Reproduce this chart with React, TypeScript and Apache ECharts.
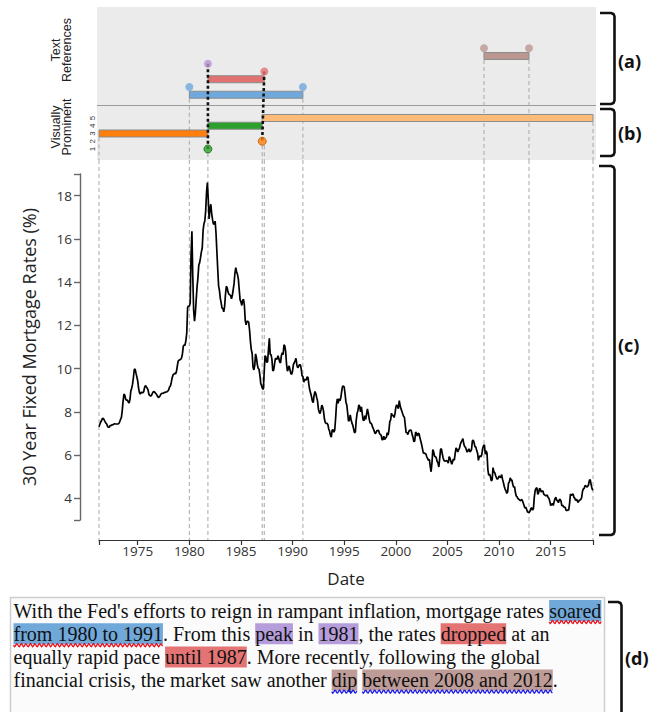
import React, { useEffect, useRef } from "react";
import * as echarts from "echarts";

// ---------------- DATA ----------------
// Monthly 30-year fixed mortgage rates (%)
const rates1971to1979 = [
  7.31, 7.43, 7.53, 7.6, 7.7, 7.69, 7.63, 7.55, 7.48,
  7.44, 7.32, 7.29, 7.29, 7.37, 7.37, 7.4, 7.4, 7.43, 7.45, 7.44, 7.44,
  7.44, 7.44, 7.46, 7.54, 7.65, 7.73, 8.05, 8.5, 8.82, 8.77, 8.58, 8.54,
  8.54, 8.46, 8.41, 8.58, 8.97, 9.09, 9.28, 9.59, 9.96, 9.98, 9.79, 9.62,
  9.43, 9.1, 8.89, 8.82, 8.91, 8.89, 8.89, 8.94, 9.13, 9.22, 9.15, 9.1,
  9.02, 8.81, 8.76, 8.73, 8.76, 8.85, 8.93, 8.94, 8.9, 8.85, 8.8, 8.72,
  8.67, 8.69, 8.75, 8.82, 8.86, 8.86, 8.87, 8.9, 8.9, 8.92, 8.93, 8.96,
  9.02, 9.15, 9.2, 9.36, 9.57, 9.71, 9.74, 9.78, 9.76, 9.86, 10.11, 10.35,
  10.39, 10.41, 10.43, 10.5, 10.69, 11.04, 11.09, 11.09, 11.3, 11.64, 12.83, 12.9,
];
const rates1980s = [
  12.88, 13.04, 15.28, 16.35, 14.26, 12.71, 12.19, 12.56, 13.2, 13.79, 14.21, 14.79,
  14.9, 15.13, 15.4, 15.58, 16.4, 16.7, 16.83, 17.29, 18.16, 18.6, 17.83, 16.92,
  17.4, 17.6, 17.16, 16.89, 16.68, 16.7, 16.82, 16.27, 15.43, 14.61, 13.83, 13.62,
  13.25, 13.04, 12.8, 12.78, 12.63, 12.87, 13.42, 13.81, 13.73, 13.54, 13.44, 13.42,
  13.37, 13.23, 13.39, 13.65, 13.94, 14.42, 14.67, 14.47, 14.35, 14.13, 13.64, 13.18,
  13.08, 12.92, 13.17, 13.2, 12.91, 12.22, 12.03, 12.19, 12.19, 12.14, 11.78, 11.26,
  10.88, 10.71, 10.08, 9.94, 10.14, 10.68, 10.51, 10.2, 10.01, 9.98, 9.7, 9.32,
  9.2, 9.08, 9.04, 9.83, 10.6, 10.54, 10.28, 10.33, 10.89, 11.4, 10.65, 10.65,
  10.43, 9.89, 9.93, 10.2, 10.46, 10.46, 10.43, 10.6, 10.48, 10.3, 10.27, 10.61,
  10.73, 10.65, 11.1, 11.05, 10.77, 10.2, 9.88, 9.99, 10.13, 9.95, 9.77, 9.74,
];
const rates1990s = [
  9.9, 10.2, 10.27, 10.37, 10.48, 10.16, 10.04, 10.1, 10.18, 10.18, 10.01, 9.67,
  9.64, 9.37, 9.5, 9.49, 9.47, 9.62, 9.58, 9.24, 9.01, 8.86, 8.71, 8.5,
  8.43, 8.76, 8.94, 8.85, 8.67, 8.51, 8.13, 7.98, 7.92, 8.09, 8.31, 8.22,
  8.02, 7.68, 7.5, 7.47, 7.47, 7.42, 7.21, 7.11, 6.92, 6.83, 7.16, 7.17,
  7.06, 7.15, 7.68, 8.32, 8.6, 8.4, 8.61, 8.51, 8.64, 8.93, 9.17, 9.2,
  9.15, 8.83, 8.46, 8.32, 7.96, 7.57, 7.61, 7.86, 7.64, 7.48, 7.38, 7.2,
  7.03, 7.08, 7.62, 7.93, 8.07, 8.32, 8.25, 8.0, 8.23, 7.92, 7.62, 7.6,
  7.82, 7.65, 7.9, 8.14, 7.94, 7.69, 7.5, 7.48, 7.43, 7.29, 7.21, 7.1,
  6.99, 7.04, 7.13, 7.14, 7.14, 7.0, 6.95, 6.92, 6.72, 6.71, 6.87, 6.72,
  6.79, 6.81, 7.04, 6.92, 7.15, 7.55, 7.63, 7.94, 7.82, 7.85, 7.74, 7.91,
];
const rates2000s = [
  8.21, 8.33, 8.24, 8.15, 8.52, 8.29, 8.15, 8.03, 7.91, 7.8, 7.75, 7.38,
  7.03, 7.05, 6.95, 7.08, 7.15, 7.16, 7.13, 6.95, 6.82, 6.62, 6.66, 7.07,
  7.0, 6.89, 7.01, 6.99, 6.81, 6.65, 6.49, 6.29, 6.09, 6.11, 6.07, 6.05,
  5.92, 5.84, 5.75, 5.81, 5.48, 5.23, 5.63, 6.26, 6.15, 5.95, 5.93, 5.88,
  5.71, 5.64, 5.45, 5.83, 6.27, 6.29, 6.06, 5.87, 5.75, 5.72, 5.73, 5.75,
  5.71, 5.63, 5.93, 5.86, 5.72, 5.58, 5.7, 5.82, 5.77, 6.07, 6.33, 6.27,
  6.15, 6.25, 6.32, 6.51, 6.6, 6.68, 6.76, 6.52, 6.4, 6.36, 6.24, 6.14,
  6.22, 6.29, 6.16, 6.18, 6.26, 6.66, 6.7, 6.57, 6.38, 6.38, 6.21, 6.1,
  5.76, 5.92, 5.97, 5.92, 6.04, 6.32, 6.43, 6.48, 6.04, 6.2, 6.09, 5.33,
  5.06, 5.13, 5.0, 4.81, 4.86, 5.42, 5.22, 5.19, 5.06, 4.95, 4.88, 4.93,
];
const rates2010s = [
  5.03, 4.99, 4.97, 5.1, 4.89, 4.74, 4.56, 4.43, 4.35, 4.23, 4.3, 4.71,
  4.76, 4.95, 4.84, 4.84, 4.64, 4.51, 4.55, 4.27, 4.11, 4.07, 3.99, 3.96,
  3.92, 3.89, 3.95, 3.91, 3.8, 3.68, 3.55, 3.6, 3.5, 3.38, 3.35, 3.35,
  3.41, 3.53, 3.57, 3.45, 3.54, 4.07, 4.37, 4.46, 4.49, 4.19, 4.26, 4.46,
  4.43, 4.3, 4.34, 4.34, 4.19, 4.16, 4.13, 4.12, 4.16, 4.04, 4.0, 3.86,
  3.67, 3.71, 3.77, 3.67, 3.84, 3.98, 4.05, 3.91, 3.89, 3.8, 3.94, 3.96,
  3.87, 3.66, 3.69, 3.61, 3.6, 3.57, 3.44, 3.44, 3.46, 3.47, 3.77, 4.2,
  4.15, 4.17, 4.2, 4.05, 4.01, 3.9, 3.97, 3.88, 3.81, 3.9, 3.92, 3.95,
  4.03, 4.33, 4.44, 4.47, 4.59, 4.57, 4.53, 4.55, 4.63, 4.83, 4.87, 4.64,
  4.46, 4.37,
];
const seriesStarts = [1971.25, 1980, 1990, 2000, 2010];

const yearTicks = [1975, 1980, 1985, 1990, 1995, 2000, 2005, 2010, 2015];
const rateTicks = [4, 6, 8, 10, 12, 14, 16, 18];
const X_MIN = 1971.25;
const X_MAX = 2019.1;
const Y_MIN = 3;
const Y_MAX = 19;

// Text references (panel a)
const refStart = [1980.0, 1981.8, 2008.54];
const refEnd = [1991.0, 1987.26, 2012.9];
const refRow = [8, 10, 13];
const refBarColors = ["#6fa8dc", "#e27272", "#bc9792"];
const refDotYears = [1980.0, 1991.0, 1987.26, 1981.8, 2008.54, 2012.9];
const refDotRows = [9, 9, 11, 12, 14, 14];
const refDotColors = ["#6fa8dc", "#6fa8dc", "#e27272", "#b595d6", "#bc9792", "#bc9792"];

// Visually prominent (panel b)
const promStart = [1971.25, 1981.8, 1987.06];
const promEnd = [1981.8, 1987.06, 2019.1];
const promLevel = [3, 4, 5];
const promColors = ["#ff7f0e", "#2ca02c", "#ffbb78"];
const promDotYears = [1981.8, 1987.06];
const promDotLevels = [1, 2];
const promDotColors = ["#2ca02c", "#ff7f0e"];
const levelTicks = [1, 2, 3, 4, 5];

// links between text references and prominent features
const linkRefYears = [1981.8, 1987.26];
const linkRefRows = [12, 11];
const linkPromYears = [1981.8, 1987.06];
const linkPromLevels = [1, 2];

// guide lines
const guideYears = [1971.25, 1980.0, 1981.8, 1987.06, 1987.26, 1991.0, 2008.54, 2012.9, 2019.1];
const guideRows = [3, 8, 1, 2, 2, 8, 13, 13, 5];

// paragraph text
const paragraph: { t: string; hl?: string; wave?: string }[][] = [
  [
    { t: "With the Fed's efforts to reign in rampant inflation, mortgage rates " },
    { t: "soared", hl: "blue", wave: "red" },
  ],
  [
    { t: "from 1980 to 1991", hl: "blue", wave: "red" },
    { t: ". From this " },
    { t: "peak", hl: "purple" },
    { t: " in " },
    { t: "1981", hl: "purple" },
    { t: ", the rates " },
    { t: "dropped", hl: "red" },
    { t: " at an" },
  ],
  [
    { t: "equally rapid pace " },
    { t: "until 1987", hl: "red" },
    { t: ". More recently, following the global" },
  ],
  [
    { t: "financial crisis, the market saw another " },
    { t: "dip", hl: "brown", wave: "blue" },
    { t: " " },
    { t: "between 2008 and 2012", hl: "brown", wave: "blue" },
    { t: "." },
  ],
];
const hlColors: Record<string, string> = {
  blue: "#70a8da",
  purple: "#b59cda",
  red: "#e47474",
  brown: "#bd9b96",
};
const waveColors: Record<string, string> = { red: "#e8101c", blue: "#1a1ae6" };

// ---------------- BUILD ----------------
function buildPoints(): number[][] {
  const arrs = [rates1971to1979, rates1980s, rates1990s, rates2000s, rates2010s];
  const pts: number[][] = [];
  arrs.forEach((arr, k) => {
    arr.forEach((v, i) => pts.push([seriesStarts[k] + i / 12, v]));
  });
  return pts;
}

function bracket(top: number, bottom: number, xr: number, xl: number) {
  return [
    [xl, top],
    [xr - 3.5, top],
    [xr - 1, top + 1],
    [xr, top + 3.5],
    [xr, bottom - 3.5],
    [xr - 1, bottom - 1],
    [xr - 3.5, bottom],
    [xl, bottom],
  ];
}

function buildOption() {
  const serif = "Liberation Serif";
  const sans = "Open Sans";
  const FS = 20;
  const ctx = document.createElement("canvas").getContext("2d")!;
  ctx.font = `${FS}px "${serif}"`;
  const PX = 13.5;
  const PY0 = 610.5;
  const PDY = 23.2;

  const graphic: any[] = [];
  // panel background
  graphic.push({ type: "rect", shape: { x: 97, y: 7, width: 499, height: 153 }, style: { fill: "#ebebeb" }, z: -10 });
  graphic.push({ type: "line", shape: { x1: 97, y1: 105.5, x2: 596, y2: 105.5 }, style: { stroke: "#9a9a9a", lineWidth: 1 }, z: -5 });
  graphic.push({
    type: "text", x: 61, y: 50, rotation: Math.PI / 2, z: 5,
    style: { text: "Text\nReferences", fontSize: 12.5, fontFamily: "Liberation Sans", lineHeight: 11, fill: "#222", align: "center", verticalAlign: "middle" },
  });
  graphic.push({
    type: "text", x: 61, y: 127, rotation: Math.PI / 2, z: 5,
    style: { text: "Visually\nProminent", fontSize: 12.5, fontFamily: "Liberation Sans", lineHeight: 11, fill: "#222", align: "center", verticalAlign: "middle" },
  });

  // brackets
  const br = [
    { top: 13, bottom: 104, label: "(a)", ly: 61, xr: 614.5, xl: 600 },
    { top: 109, bottom: 156, label: "(b)", ly: 133, xr: 614.5, xl: 600 },
    { top: 166, bottom: 535, label: "(c)", ly: 345, xr: 614.5, xl: 599 },
    { top: 602, bottom: 740, label: "(d)", ly: 658, xr: 621.5, xl: 608 },
  ];
  br.forEach((b) => {
    graphic.push({ type: "polyline", shape: { points: bracket(b.top, b.bottom, b.xr, b.xl) }, style: { stroke: "#111", lineWidth: 2.6, fill: null, lineJoin: "round" }, z: 5 });
    graphic.push({
      type: "text", x: b.xr + 3.5, y: b.ly, z: 5,
      style: { text: b.label, fontSize: 18, fontWeight: "bold", fontFamily: sans, fill: "#111", align: "left", verticalAlign: "middle" },
    });
  });

  // paragraph box
  graphic.push({ type: "rect", shape: { x: 10.5, y: 597.5, width: 594, height: 140 }, style: { fill: "#fbfbfb", stroke: "#cdcdcd", lineWidth: 1.5 }, z: 0 });
  paragraph.forEach((segs, li) => {
    const cy = PY0 + li * PDY;
    let x = PX;
    let full = "";
    segs.forEach((s) => {
      const w = ctx.measureText(s.t).width;
      if (s.hl) {
        graphic.push({ type: "rect", shape: { x, y: cy - 10.5, width: w, height: 21 }, style: { fill: hlColors[s.hl] }, z: 1 });
      }
      if (s.wave) {
        const pts: number[][] = [];
        const wy = cy + 11.5;
        for (let xx = x; xx <= x + w; xx += 1) {
          pts.push([xx, wy + 1.6 * Math.sin(((xx - x) / 4.5) * 2 * Math.PI)]);
        }
        graphic.push({ type: "polyline", shape: { points: pts }, style: { stroke: waveColors[s.wave], lineWidth: 1.3, fill: null }, z: 3 });
      }
      x += w;
      full += s.t;
    });
    graphic.push({
      type: "text", x: PX, y: cy, z: 2,
      style: { text: full, fontSize: FS, fontFamily: serif, fill: "#111", align: "left", verticalAlign: "middle" },
    });
  });

  const refBarData = refStart.map((s, i) => [s, refEnd[i], refRow[i]]);
  const promBarData = promStart.map((s, i) => [s, promEnd[i], promLevel[i]]);
  const refDotData = refDotYears.map((y, i) => ({ value: [y, refDotRows[i]], itemStyle: { color: refDotColors[i] } }));
  const promDotData = promDotYears.map((y, i) => ({
    value: [y, promDotLevels[i]],
    itemStyle: { color: promDotColors[i], borderColor: i === 0 ? "#1a6a1a" : "#b85a00", borderWidth: 1 },
  }));
  const linkData = linkRefYears.map((y, i) => [y, linkRefRows[i], linkPromYears[i], linkPromLevels[i]]);
  const panelGuideData = guideYears.map((y, i) => [y, guideRows[i]]);
  const chartGuideData = guideYears.map((y) => [y, Y_MIN]);
  const levelLabelData = levelTicks.map((l) => [X_MIN, l]);

  const barRender = (colors: string[]) => (params: any, api: any) => {
    const s = api.coord([api.value(0), api.value(2)]);
    const e = api.coord([api.value(1), api.value(2)]);
    return {
      type: "rect",
      shape: { x: s[0], y: s[1] - 3.5, width: e[0] - s[0], height: 7 },
      style: { fill: colors[params.dataIndex], stroke: "#8c8c8c", lineWidth: 1 },
    };
  };

  const axisFont = { fontFamily: sans, fontSize: 13.5, color: "#333" };

  return {
    animation: false,
    grid: [
      { left: 99, top: 174, width: 494, height: 346 },
      { left: 99, top: 7, width: 494, height: 153 },
    ],
    xAxis: [
      {
        type: "value", gridIndex: 0, min: X_MIN, max: X_MAX, offset: 20,
        name: "Date", nameLocation: "middle", nameGap: 30,
        nameTextStyle: { fontFamily: sans, fontSize: 17, color: "#222" },
        axisLine: { show: true, lineStyle: { color: "#333", width: 1.2 } },
        axisTick: { show: true, length: 5, customValues: [X_MIN, ...yearTicks, X_MAX], lineStyle: { color: "#333", width: 1.2 } },
        axisLabel: { customValues: yearTicks, formatter: (v: number) => String(v), margin: 4, ...axisFont },
        splitLine: { show: false },
      },
      { type: "value", gridIndex: 1, min: X_MIN, max: X_MAX, show: false },
    ],
    yAxis: [
      {
        type: "value", gridIndex: 0, min: Y_MIN, max: Y_MAX, offset: 19,
        name: "30 Year Fixed Mortgage Rates (%)", nameLocation: "middle", nameGap: 42,
        nameTextStyle: { fontFamily: sans, fontSize: 18, color: "#222" },
        axisLine: { show: true, lineStyle: { color: "#666", width: 1.4 } },
        axisTick: { show: true, length: 6, customValues: [Y_MIN, ...rateTicks, Y_MAX], lineStyle: { color: "#666", width: 1.4 } },
        axisLabel: { customValues: rateTicks, formatter: (v: number) => String(v), margin: 8, ...axisFont },
        splitLine: { show: false },
      },
      { type: "value", gridIndex: 1, min: -0.42, max: 19.32, show: false },
    ],
    series: [
      {
        type: "custom", name: "chartGuides", xAxisIndex: 0, yAxisIndex: 0, clip: false, z: 1, silent: true,
        data: chartGuideData,
        renderItem: (params: any, api: any) => {
          const cs = params.coordSys;
          const x = api.coord([api.value(0), Y_MIN])[0];
          return { type: "line", shape: { x1: x, y1: cs.y - 14, x2: x, y2: cs.y + cs.height + 20 }, style: { stroke: "#a8a8a8", lineWidth: 1, lineDash: [4, 3] } };
        },
      },
      {
        type: "line", name: "rates", xAxisIndex: 0, yAxisIndex: 0, data: buildPoints(),
        showSymbol: false, symbol: "none", lineStyle: { color: "#000", width: 1.7 }, z: 5,
      },
      {
        type: "custom", name: "levelLabels", xAxisIndex: 1, yAxisIndex: 1, clip: false, z: 5, silent: true,
        data: levelLabelData,
        renderItem: (params: any, api: any) => {
          const p = api.coord([api.value(0), api.value(1)]);
          return {
            type: "text", x: p[0] - 7, y: p[1], rotation: Math.PI / 2,
            style: { text: String(api.value(1)), fontSize: 8, fontFamily: "Liberation Sans", fill: "#333", align: "center", verticalAlign: "middle" },
          };
        },
      },
      {
        type: "custom", name: "panelGuides", xAxisIndex: 1, yAxisIndex: 1, clip: false, z: 1, silent: true,
        data: panelGuideData,
        renderItem: (params: any, api: any) => {
          const cs = params.coordSys;
          const p = api.coord([api.value(0), api.value(1)]);
          return { type: "line", shape: { x1: p[0], y1: p[1] + 4, x2: p[0], y2: cs.y + cs.height }, style: { stroke: "#a8a8a8", lineWidth: 1, lineDash: [4, 3] } };
        },
      },
      {
        type: "custom", name: "textReferences", xAxisIndex: 1, yAxisIndex: 1, clip: false, z: 2,
        data: refBarData, renderItem: barRender(refBarColors),
      },
      {
        type: "custom", name: "visuallyProminent", xAxisIndex: 1, yAxisIndex: 1, clip: false, z: 2,
        data: promBarData, renderItem: barRender(promColors),
      },
      {
        type: "custom", name: "links", xAxisIndex: 1, yAxisIndex: 1, clip: false, z: 3, silent: true,
        data: linkData,
        renderItem: (params: any, api: any) => {
          const a = api.coord([api.value(0), api.value(1)]);
          const b = api.coord([api.value(2), api.value(3)]);
          return { type: "line", shape: { x1: a[0], y1: a[1], x2: b[0], y2: b[1] }, style: { stroke: "#111", lineWidth: 2.6, lineDash: [3, 2.5] } };
        },
      },
      {
        type: "scatter", name: "refDots", xAxisIndex: 1, yAxisIndex: 1, symbolSize: 8, z: 4, data: refDotData,
      },
      {
        type: "scatter", name: "promDots", xAxisIndex: 1, yAxisIndex: 1, symbolSize: 8, z: 4, data: promDotData,
      },
    ],
    graphic,
  };
}

export default function App() {
  const ref = useRef<HTMLDivElement>(null);
  useEffect(() => {
    if (!ref.current) return;
    const chart = echarts.init(ref.current, null, { renderer: "svg" });
    chart.setOption(buildOption() as any);
    return () => chart.dispose();
  }, []);
  return (
    <div
      ref={ref}
      style={{ position: "absolute", left: 0, top: 0, width: 655, height: 712, background: "#fff" }}
    />
  );
}
